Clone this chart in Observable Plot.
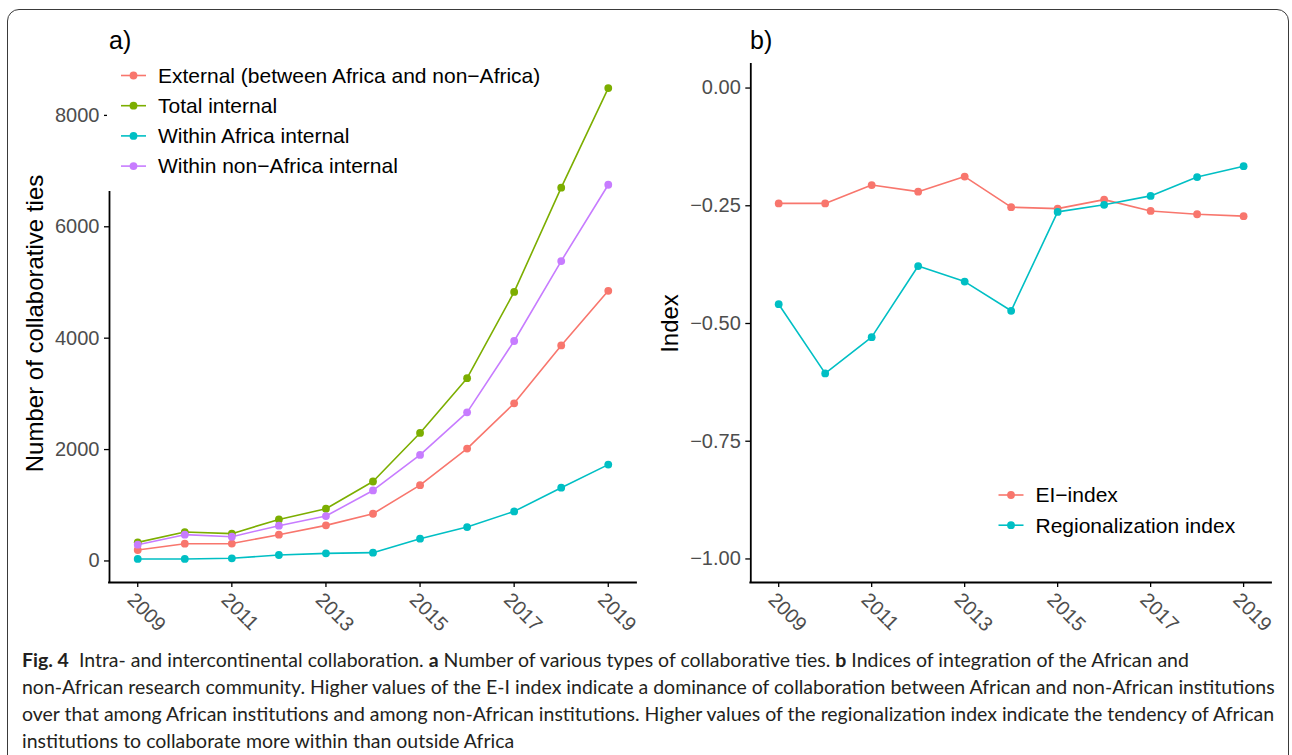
<!DOCTYPE html>
<html>
<head>
<meta charset="utf-8">
<script src="https://cdn.jsdelivr.net/npm/d3@7"></script>
<script src="https://cdn.jsdelivr.net/npm/@observablehq/plot@0.6"></script>
<style>
  html, body { margin: 0; padding: 0; background: #fff; }
  body { width: 1292px; height: 755px; position: relative; overflow: hidden; }
  #frame { position: absolute; left: 7px; top: 9px; width: 1282px; height: 800px;
           border: 1px solid #3a3a3a; border-radius: 12px; box-sizing: border-box; }
  .panel { position: absolute; top: 0; }
  #overlay { position: absolute; left: 0; top: 0; }
  #caption { position: absolute; left: 22px; top: 646px; font-family: Lato, "Open Sans", sans-serif;
             color: #231f20; line-height: 27px; white-space: nowrap; }
  #caption div { white-space: nowrap; }
</style>
</head>
<body>
<div id="frame"></div>
<div id="panelA" class="panel" style="left:0px"></div>
<div id="panelB" class="panel" style="left:650px"></div>
<svg id="overlay" width="1292" height="640"></svg>
<div id="caption">
  <div id="cap1"><b>Fig. 4</b>&nbsp; Intra- and intercontinental collaboration. <b>a</b> Number of various types of collaborative ties. <b>b</b> Indices of integration of the African and</div>
  <div id="cap2"><span id="cap2span">non-African research community. Higher values of the E-I index indicate a dominance of collaboration between African and non-African institutions</span></div>
  <div id="cap3">over that among African institutions and among non-African institutions. Higher values of the regionalization index indicate the tendency of African</div>
  <div id="cap4">institutions to collaborate more within than outside Africa</div>
</div>
<script>
// ---------- data ----------
const years = [2009, 2010, 2011, 2012, 2013, 2014, 2015, 2016, 2017, 2018, 2019];
const yearTicks = [2009, 2011, 2013, 2015, 2017, 2019];

const seriesNamesA = ["External (between Africa and non\u2212Africa)", "Total internal", "Within Africa internal", "Within non\u2212Africa internal"];
const colorsA = ["#F8766D", "#7CAE00", "#00BFC4", "#C77CFF"];
const external        = [197, 310, 312, 472, 639, 848, 1361, 2018, 2830, 3870, 4850];
const totalInternal   = [334, 519, 490, 746, 937, 1427, 2298, 3282, 4830, 6703, 8491];
const withinAfrica    = [36, 36, 48, 107, 137, 149, 400, 609, 890, 1316, 1730];
const withinNonAfrica = [292, 472, 436, 633, 806, 1266, 1904, 2668, 3949, 5385, 6755];
const ticksA = [0, 2000, 4000, 6000, 8000];

const seriesNamesB = ["EI\u2212index", "Regionalization index"];
const colorsB = ["#F8766D", "#00BFC4"];
const eiIndex         = [-0.245, -0.245, -0.206, -0.220, -0.188, -0.253, -0.256, -0.237, -0.261, -0.268, -0.272];
const regionalization = [-0.459, -0.606, -0.529, -0.378, -0.411, -0.473, -0.263, -0.248, -0.229, -0.189, -0.166];
const ticksB = [0, -0.25, -0.5, -0.75, -1];

// ---------- build tables ----------
const valuesA = [external, totalInternal, withinAfrica, withinNonAfrica];
const dataA = seriesNamesA.flatMap((name, k) => years.map((year, i) => ({year, value: valuesA[k][i], series: name})));
const valuesB = [eiIndex, regionalization];
const dataB = seriesNamesB.flatMap((name, k) => years.map((year, i) => ({year, value: valuesB[k][i], series: name})));

const font = "'Liberation Sans', Arial, Helvetica, sans-serif";
const xDomain = [years[0] - 0.6, years[years.length - 1] + 0.6];
function expand(lo, hi) { const d = (hi - lo) * 0.05; return [lo - d, hi + d]; }
const yDomainA = expand(d3.min(dataA, d => d.value), d3.max(dataA, d => d.value));
const yDomainB = expand(d3.min(ticksB), d3.max(ticksB));
const fmtMinus = s => s.replace("-", "\u2212");

function panel({data, width, marginLeft, marginRight, yDomain, yTicks, yFmt, names, colors, yLabel, labelDx}) {
  return Plot.plot({
    width, height: 640, marginLeft, marginRight, marginTop: 64, marginBottom: 58,
    style: {fontFamily: font, background: "transparent", overflow: "visible"},
    x: {domain: xDomain},
    y: {domain: yDomain},
    color: {domain: names, range: colors},
    marks: [
      Plot.axisY({ticks: yTicks, tickFormat: yFmt, tickSize: 5, tickPadding: 5, fontSize: 20,
                  stroke: "#000", fill: "#4d4d4d", strokeWidth: 1.3, label: null}),
      Plot.axisX({ticks: yearTicks, tickFormat: d => String(d), tickSize: 5, tickPadding: 4, fontSize: 20,
                  tickRotate: 45, stroke: "#000", fill: "#4d4d4d", strokeWidth: 1.3, label: null}),
      Plot.ruleX([xDomain[0]], {stroke: "#000", strokeWidth: 1.8, strokeLinecap: "square"}),
      Plot.ruleY([yDomain[0]], {stroke: "#000", strokeWidth: 1.8, strokeLinecap: "square"}),
      Plot.line(data, {x: "year", y: "value", z: "series", stroke: "series", strokeWidth: 1.6}),
      Plot.dot(data, {x: "year", y: "value", fill: "series", r: 3.9}),
      Plot.text([yLabel], {frameAnchor: "left", rotate: -90, dx: labelDx, fontSize: 24, fill: "#000",
                           textAnchor: "middle", lineAnchor: "middle", text: d => d})
    ]
  });
}

const svgA = panel({
  data: dataA, width: 650, marginLeft: 109, marginRight: 14, yDomain: yDomainA, yTicks: ticksA,
  yFmt: d => String(d), names: seriesNamesA, colors: colorsA,
  yLabel: "Number of collaborative ties", labelDx: -74
});
const svgB = panel({
  data: dataB, width: 642, marginLeft: 100.3, marginRight: 21, yDomain: yDomainB, yTicks: ticksB,
  yFmt: d => fmtMinus(d.toFixed(2)), names: seriesNamesB, colors: colorsB,
  yLabel: "Index", labelDx: -80
});
document.getElementById("panelA").appendChild(svgA);
document.getElementById("panelB").appendChild(svgB);

// nudge rotated x tick labels so their top edge starts just under the tick, as in ggplot (angle -45, hjust 0)
for (const svg of [svgA, svgB]) {
  d3.select(svg).selectAll("[aria-label='x-axis tick label'] text").each(function () {
    const t = d3.select(this);
    const tr = t.attr("transform") || "";
    t.attr("transform", "translate(-7,5) " + tr);
  });
}

// ---------- overlay: panel tags and legends ----------
const ov = d3.select("#overlay").style("font-family", font);
ov.append("text").attr("x", 109).attr("y", 49).attr("font-size", 25).text("a)");
ov.append("text").attr("x", 750).attr("y", 49).attr("font-size", 25).text("b)");

function legend(g, names, colors, {x0, y0, step}) {
  names.forEach((name, i) => {
    const y = y0 + i * step;
    g.append("line").attr("x1", x0).attr("x2", x0 + 25).attr("y1", y).attr("y2", y)
      .attr("stroke", colors[i]).attr("stroke-width", 1.6);
    g.append("circle").attr("cx", x0 + 12.5).attr("cy", y).attr("r", 3.9).attr("fill", colors[i]);
    g.append("text").attr("x", x0 + 37).attr("y", y).attr("dy", "0.35em").attr("font-size", 21)
      .attr("fill", "#000").text(name);
  });
}
const gA = ov.append("g");
gA.append("rect").attr("x", 107).attr("y", 56).attr("width", 445).attr("height", 135).attr("fill", "#fff");
legend(gA, seriesNamesA, colorsA, {x0: 121, y0: 75.5, step: 30.2});
legend(ov.append("g"), seriesNamesB, colorsB, {x0: 998.5, y0: 495, step: 30.2});

// ---------- caption fit: second line spans the caption width ----------
const cap = document.getElementById("caption");
cap.style.fontSize = "17px";
const wspan = document.getElementById("cap2span").getBoundingClientRect().width;
cap.style.fontSize = (17 * 1253 / wspan).toFixed(2) + "px";
</script>
</body>
</html>
